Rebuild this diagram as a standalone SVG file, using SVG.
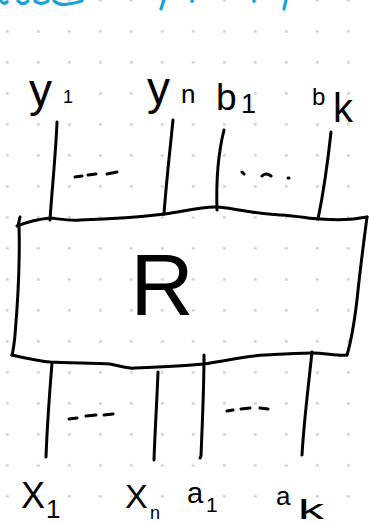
<svg xmlns="http://www.w3.org/2000/svg" width="370" height="524" viewBox="0 0 370 524">
  <defs>
    <pattern id="grid" x="-8.2" y="-15.2" width="31" height="31" patternUnits="userSpaceOnUse">
      <circle cx="15.5" cy="15.5" r="1.6" fill="#d2d2d2"/>
    </pattern>
    <style>
      .ink { fill: none; stroke: #000; stroke-width: 3; stroke-linecap: round; stroke-linejoin: round; }
      .cyan { fill: none; stroke: #1ba3d8; stroke-width: 3.2; stroke-linecap: round; }
      .lbl { font-family: "Liberation Sans", "DejaVu Sans", sans-serif; fill: #000; }
    </style>
  </defs>
  <rect width="370" height="524" fill="#fff"/>
  <rect width="370" height="524" fill="url(#grid)"/>

  <g id="header-fragments">
    <path class="cyan" d="M1,1 Q4,5 7,2"/>
    <path class="cyan" d="M18,1 Q23,6 28,1"/>
    <path class="cyan" d="M35,1 Q41,6 48,1"/>
    <path class="cyan" d="M54,1 Q60,6 68,4 Q76,3 82,1"/>
    <path class="cyan" d="M164,0 L161,9"/>
    <path class="cyan" d="M192,0 L192,1.5"/>
    <path class="cyan" d="M254,0 L254,1.5"/>
    <path class="cyan" d="M286,0 L284,9"/>
  </g>

  <g id="node-R">
    <path class="ink" d="M20,217 L18,226"/>
    <path class="ink" d="M17,226 C30,221 40,219 50,218 C60,219 70,221 80,220 C110,219 140,217 165,214 C185,211 205,206 217,207 C240,209 255,214 280,215 C300,216 310,219 320,219 C335,220 350,220 360,218 L367,217"/>
    <path class="ink" d="M367,217 C364,240 360,270 357,300 C354,325 350,345 347,355"/>
    <path class="ink" d="M12,355 C25,358 38,361 50,362 C70,363 95,363 110,364 C120,366 128,369 135,368 C160,367 185,366 203,364 C225,361 245,356 265,355 C285,354 300,353 312,353 C325,353 338,356 347,355"/>
    <path class="ink" d="M19,225 C20,260 18,300 15,335 C14,345 13,352 12,355"/>
    <text class="lbl" x="162" y="315" font-size="88" text-anchor="middle">R</text>
  </g>

  <g id="connectors">
    <path class="ink" d="M57,122 C56,150 52,190 50,220"/>
    <path class="ink" d="M173,120 C170,150 166,185 164,214"/>
    <path class="ink" d="M224,130 C219,150 216,180 217,210"/>
    <path class="ink" d="M331,132 C328,160 323,195 318,219"/>
    <path class="ink" d="M52,363 C49,400 47,430 46,457"/>
    <path class="ink" d="M158,372 C157,400 155,430 154,460"/>
    <path class="ink" d="M204,355 C204,390 202,430 201,456 L200,458"/>
    <path class="ink" d="M312,352 C308,390 304,420 302,455"/>
  </g>

  <g id="ellipses">
    <path class="ink" d="M75,177 L82,176 M88,175 L96,174 M107,174 L117,172"/>
    <path class="ink" d="M242,172 L244,174 M262,176 Q266,172 271,176 M288,178 L289,178"/>
    <path class="ink" d="M69,419 L77,418 M86,416 L96,415 M104,415 L113,414"/>
    <path class="ink" d="M227,411 L233,410 M241,409 L250,408 M260,408 L268,409"/>
  </g>

  <g id="label-y1"><text class="lbl" x="29" y="106" font-size="46">y</text><text class="lbl" x="63" y="103" font-size="18">1</text></g>
  <g id="label-yn"><text class="lbl" x="147" y="104" font-size="46">y</text><text class="lbl" x="181" y="103" font-size="26">n</text></g>
  <g id="label-b1"><text class="lbl" x="216" y="110" font-size="37">b</text><text class="lbl" x="241" y="113" font-size="27">1</text></g>
  <g id="label-bk"><text class="lbl" x="312" y="105" font-size="24">b</text><text class="lbl" x="333" y="122" font-size="40">k</text></g>
  <g id="label-x1"><text class="lbl" x="21" y="508" font-size="36">X</text><text class="lbl" x="46" y="518" font-size="26">1</text></g>
  <g id="label-xn"><text class="lbl" x="125" y="508" font-size="34">X</text><text class="lbl" x="150" y="519" font-size="18">n</text></g>
  <g id="label-a1"><text class="lbl" x="187" y="503" font-size="29">a</text><text class="lbl" x="206" y="512" font-size="21">1</text></g>
  <g id="label-ak"><text class="lbl" x="276" y="505" font-size="26">a</text><text class="lbl" x="298" y="519" font-size="27" textLength="26" lengthAdjust="spacingAndGlyphs">k</text></g>
</svg>
